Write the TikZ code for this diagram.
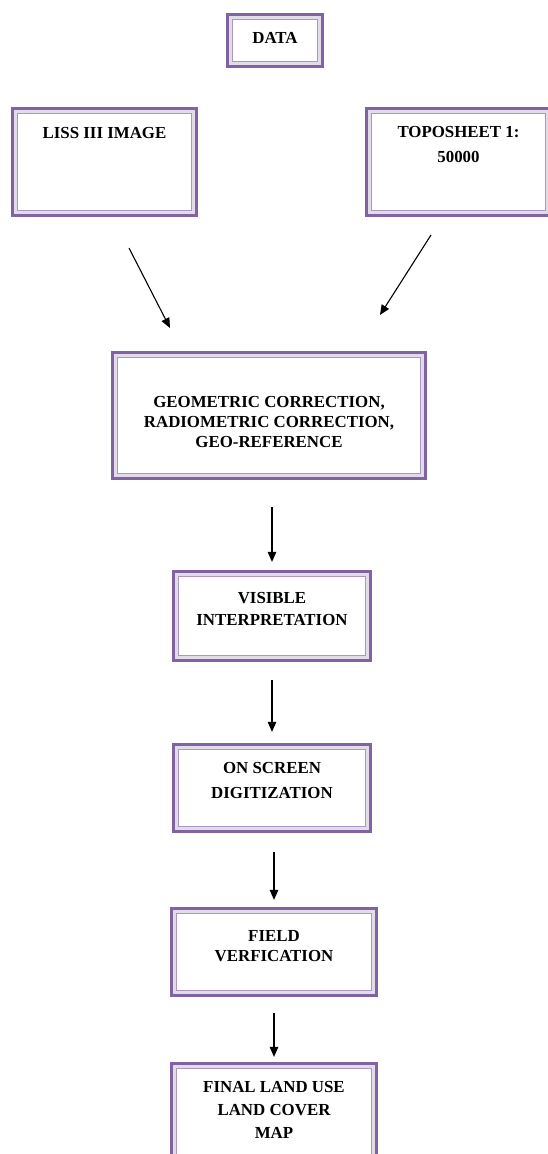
\documentclass[tikz,border=0pt]{standalone}
\usepackage{fontspec}
\setmainfont{Liberation Serif}
\usetikzlibrary{arrows.meta,calc}
\definecolor{boxdark}{RGB}{128,100,162}
\definecolor{boxpale}{RGB}{226,219,234}
\definecolor{boxlav}{RGB}{170,152,194}
\tikzstyle{flowbox}=[rectangle,draw=boxdark,line width=0.075cm,fill=white,align=center,inner sep=0pt,font=\fontsize{9.6}{11.4}\selectfont\bfseries]
\tikzstyle{flowarrow}=[-{Triangle[length=0.2cm,width=0.17cm]},line width=0.022cm]

\begin{document}
\begin{tikzpicture}[x=0.02cm,y=-0.02cm]
\useasboundingbox (0,0) rectangle (548,1154);
\node[flowbox,minimum width=1.89cm,minimum height=1.03cm,text depth=0.12cm] (data) at (275,40.5) {DATA};
\node[flowbox,minimum width=3.67cm,minimum height=2.13cm,text depth=1.18cm] (liss) at (104.5,162) {LISS III IMAGE};
\node[flowbox,minimum width=3.67cm,minimum height=2.13cm,text depth=0.7cm] (topo) at (458.5,162) {TOPOSHEET 1:\\[2.8pt]50000};
\node[flowbox,minimum width=6.25cm,minimum height=2.51cm,text height=36.2pt] (geo) at (269,415.5) {GEOMETRIC CORRECTION,\\RADIOMETRIC CORRECTION,\\GEO-REFERENCE};
\node[flowbox,minimum width=3.93cm,minimum height=1.77cm,text depth=0.3cm] (vis) at (272,616) {VISIBLE\\[1.1pt]INTERPRETATION};
\node[flowbox,minimum width=3.93cm,minimum height=1.73cm,text depth=0.3cm] (scr) at (272,788) {ON SCREEN\\[2.8pt]DIGITIZATION};
\node[flowbox,minimum width=4.09cm,minimum height=1.73cm,text depth=0.24cm] (fld) at (274,952) {FIELD\\[0.5pt]VERFICATION};
\node[flowbox,minimum width=4.09cm,minimum height=2.09cm,text depth=0.26cm] (fin) at (274,1116) {FINAL LAND USE\\[1.7pt]LAND COVER\\[1.7pt]MAP};
% inner frame lines of every box
\foreach \n in {data,liss,topo,geo,vis,scr,fld,fin}{
  \draw[boxpale,line width=0.05cm] ($(\n.south west)+(4.75,-4.75)$) rectangle ($(\n.north east)+(-4.75,4.75)$);
  \draw[boxlav,line width=0.03cm] ($(\n.south west)+(6.75,-6.75)$) rectangle ($(\n.north east)+(-6.75,6.75)$);
}
\coordinate (lissend) at (129,248);
\coordinate (geotipl) at (170,328);
\coordinate (topoend) at (431,235);
\coordinate (geotipr) at (380,315);
\draw[flowarrow] (lissend) -- (geotipl);
\draw[flowarrow] (topoend) -- (geotipr);
\draw[flowarrow,shorten <=0.54cm,shorten >=0.16cm] (vis.north |- geo.south) -- (vis.north);
\draw[flowarrow,shorten <=0.36cm,shorten >=0.22cm] (vis.south) -- (scr.north);
\draw[flowarrow,shorten <=0.38cm,shorten >=0.14cm] (fld.north |- scr.south) -- (fld.north);
\draw[flowarrow,shorten <=0.32cm,shorten >=0.10cm] (fld.south) -- (fin.north);
\end{tikzpicture}
\end{document}
